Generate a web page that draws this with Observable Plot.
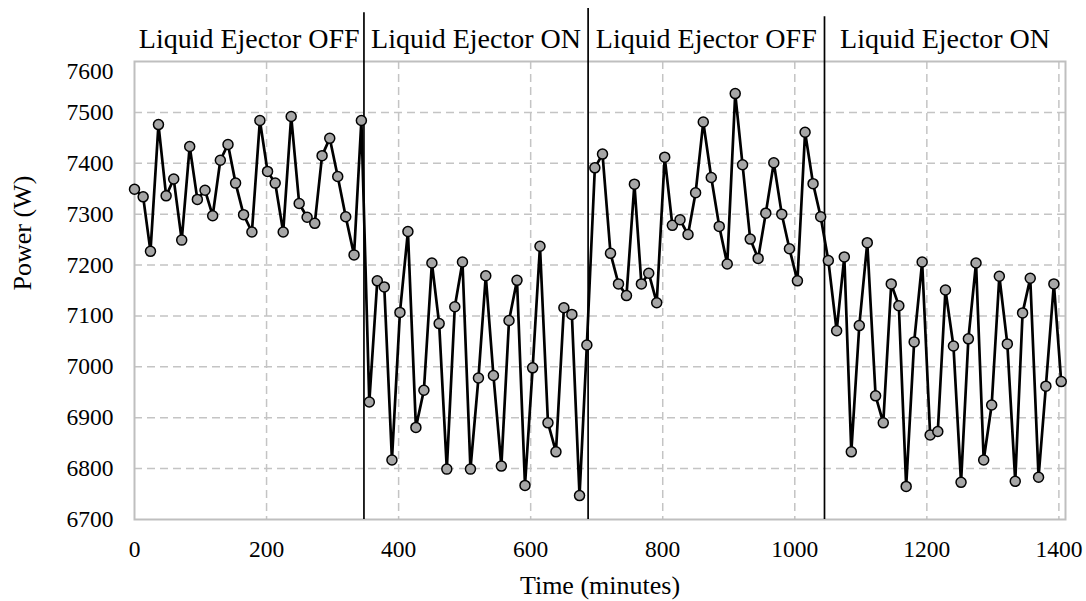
<!DOCTYPE html>
<html>
<head>
<meta charset="utf-8">
<script src="https://cdn.jsdelivr.net/npm/d3@7"></script>
<script src="https://cdn.jsdelivr.net/npm/@observablehq/plot@0.6"></script>
<style>
  html, body { margin: 0; padding: 0; background: #ffffff; }
  #chart svg { display: block; }
</style>
</head>
<body>
<div id="chart"></div>
<script>
// Time (minutes) of each sample
const times = [0,13.1,24.2,36.3,47.9,59.4,71.5,83.6,95.2,106.8,118.4,130,141.6,153.1,165.2,177.8,189.9,201.5,213.1,225.2,237.3,249.4,261.4,273,284.1,295.7,307.8,319.9,332.5,343.6,
  355.6,367.7,378.3,389.9,402,414.1,426.2,438.3,450.4,461.4,473,485.1,496.7,508.8,520.9,532,543.6,555.6,567.2,579.3,591.4,603,614.1,626.2,638.3,650.3,662.4,674,685.1,
  697.2,708.8,720.9,733,745.1,757.1,767.7,778.8,790.9,803,814.6,826.2,838.3,849.8,861.4,873.5,885.6,897.7,909.8,920.9,932.5,944.5,956.1,968.2,980.3,991.9,1004,1015.6,1027.7,1039.2,1050.8,
  1063.4,1075,1085.6,1097.7,1109.8,1122.4,1134,1146.1,1157.6,1168.7,1180.8,1192.9,1205,1216.6,1228.2,1240.3,1251.8,1262.9,1274.5,1286.1,1298.2,1309.8,1321.9,1333.9,1345,1356.6,1369.2,1380.3,1392.4,1403.5];

// Power (W)
const power = [7349,7334,7227,7476,7336,7369,7249,7433,7329,7347,7297,7406,7437,7361,7299,7265,7484,7384,7361,7265,7492,7321,7294,7282,7415,7449,7374,7295,7220,7484,
  6931,7169,7157,6817,7107,7266,6881,6954,7204,7085,6799,7118,7206,6799,6978,7179,6983,6805,7091,7170,6767,6998,7237,6890,6833,7116,7103,6747,7043,
  7391,7418,7223,7163,7140,7359,7163,7184,7126,7412,7278,7289,7260,7342,7481,7372,7276,7202,7537,7397,7251,7213,7302,7401,7300,7232,7169,7461,7360,7295,7209,
  7071,7216,6833,7081,7244,6943,6890,7163,7120,6765,7049,7206,6866,6873,7151,7041,6773,7055,7204,6817,6925,7178,7045,6775,7106,7174,6783,6962,7163,6971];

// Phase dividers (minutes) and how high above the plot each drawn line reaches (W)
const dividerTimes = [347.5, 687, 1045];
const dividerTops = [7696, 7704, 7688];

// Phase labels (between dividers)
const phaseLabels = ["Liquid Ejector OFF", "Liquid Ejector ON", "Liquid Ejector OFF", "Liquid Ejector ON"];

const xTicks = [0, 200, 400, 600, 800, 1000, 1200, 1400];
const yTicks = [6700, 6800, 6900, 7000, 7100, 7200, 7300, 7400, 7500, 7600];
const xDomain = [0, 1410];
const yDomain = [6700, 7600];
const xLabel = "Time (minutes)";
const yLabel = "Power (W)";

const data = times.map((t, i) => ({t, p: power[i]}));
const dividers = dividerTimes.map((t, i) => ({t, top: dividerTops[i]}));
const bounds = [xDomain[0], ...dividerTimes, xDomain[1]];
const phases = phaseLabels.map((label, i) => ({label, x: (bounds[i] + bounds[i + 1]) / 2}));

const grid = "#c4c4c4";
const font = "'Liberation Serif', 'Times New Roman', serif";

const chart = Plot.plot({
  width: 1086,
  height: 601,
  marginLeft: 134,
  marginRight: 21,
  marginTop: 61,
  marginBottom: 82,
  style: {fontFamily: font, fontSize: "23.5px", color: "#000", background: "#fff"},
  x: {domain: xDomain, axis: null},
  y: {domain: yDomain, axis: null},
  marks: [
    Plot.gridX(xTicks.filter(d => d > 0), {stroke: grid, strokeOpacity: 1, strokeWidth: 1.5, strokeDasharray: "8,5"}),
    Plot.gridY(yTicks.filter(d => d > 6700 && d < 7600), {stroke: grid, strokeOpacity: 1, strokeWidth: 1.5, strokeDasharray: "8,5"}),
    Plot.frame({stroke: "#bfbfbf", strokeWidth: 2}),
    Plot.axisX({ticks: xTicks, tickSize: 0, tickPadding: 21, tickFormat: d => String(d), fontSize: 23.5, label: null}),
    Plot.axisY({ticks: yTicks.filter(d => d < 7600), tickSize: 0, tickPadding: 21, tickFormat: d => String(d), fontSize: 23.5, label: null}),
    Plot.axisY({ticks: [7600], tickSize: 0, tickPadding: 21, dy: 10, tickFormat: d => String(d), fontSize: 23.5, label: null}),
    Plot.text([xLabel], {frameAnchor: "bottom", lineAnchor: "bottom", dy: 74, text: d => d, fontSize: 26, fill: "#000"}),
    Plot.text([yLabel], {frameAnchor: "left", rotate: -90, dx: -112, text: d => d, fontSize: 26, fill: "#000"}),
    Plot.ruleX(dividers, {x: "t", y1: yDomain[0], y2: "top", stroke: "#000", strokeWidth: 1.7}),
    Plot.text(phases, {x: "x", frameAnchor: "top", lineAnchor: "bottom", dy: -13.5, text: "label", fontSize: 28, fill: "#000"}),
    Plot.line(data, {x: "t", y: "p", stroke: "#000", strokeWidth: 2.7}),
    Plot.dot(data, {x: "t", y: "p", r: 5, fill: "#a6a6a6", stroke: "#000", strokeWidth: 1.5})
  ]
});

document.getElementById("chart").appendChild(chart);
</script>
</body>
</html>
